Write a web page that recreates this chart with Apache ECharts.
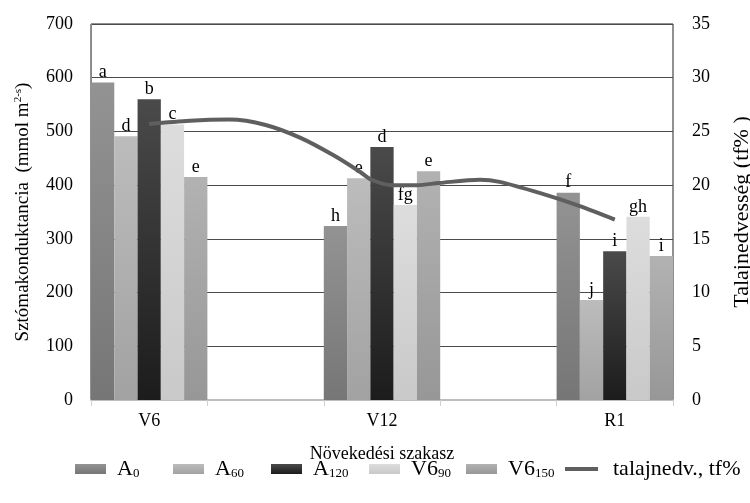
<!DOCTYPE html>
<html><head><meta charset="utf-8">
<script src="https://cdn.jsdelivr.net/npm/echarts@6/dist/echarts.min.js"></script>
<style>html,body{margin:0;padding:0;background:#fff}#c{width:750px;height:503px}</style>
</head><body><div id="c"></div>
<script>
var categories = ['V6', '', 'V12', '', 'R1'];
var seriesNames = ['A0', 'A60', 'A120', 'V690', 'V6150', 'talajnedv., tf%'];
var legendMain = ['A', 'A', 'A', 'V6', 'V6'];
var legendSub = ['0', '60', '120', '90', '150'];
var A0 = [591, null, 324, null, 386];
var A60 = [491, null, 413, null, 186];
var A120 = [560, null, 471, null, 277];
var V6_90 = [513, null, 363, null, 341];
var V6_150 = [415, null, 426, null, 268];
// soil moisture curve: position in category units (0 = V6, 2 = V12, 4 = R1) and value (tf%)
var soilPos = [0, 0.35, 0.69, 1.0, 1.3, 1.58, 1.81, 1.91, 2.09, 2.3, 2.49, 2.84, 3.01, 3.36, 3.7, 4.0];
var soilVal = [25.7, 26.0, 26.1, 25.6, 24.4, 22.8, 21.25, 20.5, 20.0, 20.0, 20.2, 20.5, 20.3, 19.25, 18.05, 16.8];
var lettersA0 = ['a', '', 'h', '', 'f'];
var lettersA60 = ['d', '', 'e', '', 'j'];
var lettersA120 = ['b', '', 'd', '', 'i'];
var lettersV6_90 = ['c', '', 'fg', '', 'gh'];
var lettersV6_150 = ['e', '', 'e', '', 'i'];
var leftTicks = [0, 700, 100];
var rightTicks = [0, 35, 5];

var barData = [A0, A60, A120, V6_90, V6_150];
var letters = [lettersA0, lettersA60, lettersA120, lettersV6_90, lettersV6_150];
var grads = [['#939393', '#767676'], ['#bcbcbc', '#a2a2a2'], ['#4a4a4a', '#1c1c1c'], ['#dddddd', '#c9c9c9'], ['#b2b2b2', '#979797']];
var FONT = '"Liberation Serif", "Times New Roman", serif';

function grad(c) {
  return new echarts.graphic.LinearGradient(0, 0, 0, 1, [{offset: 0, color: c[0]}, {offset: 1, color: c[1]}]);
}

var series = barData.map(function (d, i) {
  return {
    name: seriesNames[i], type: 'bar', data: d, barGap: '0%', barCategoryGap: '0%',
    itemStyle: {color: grad(grads[i])},
    label: {show: true, position: 'top', distance: 1, color: '#000', fontFamily: FONT, fontSize: 18,
      formatter: function (p) { return letters[i][p.dataIndex]; }}
  };
});
series.push({
  name: seriesNames[5], type: 'line', xAxisIndex: 1, yAxisIndex: 1,
  data: soilPos.map(function (p, k) { return [p, soilVal[k]]; }),
  smooth: 0.3, symbol: 'none', z: 5, lineStyle: {color: '#5f5f5f', width: 4}, itemStyle: {color: '#5f5f5f'}
});

var legendLefts = [70, 168, 266, 364, 461, 560];
var legends = seriesNames.map(function (n, i) {
  var isLine = i === 5;
  return {
    data: [{name: n, icon: 'rect'}], left: legendLefts[i], top: 453,
    itemWidth: isLine ? 33 : 31, itemHeight: isLine ? 4 : 10,
    itemStyle: {borderWidth: 0},
    textStyle: {fontFamily: FONT, fontSize: 22, color: '#000',
      rich: {m: {fontFamily: FONT, fontSize: 22, color: '#000', padding: [0, 0, 0, isLine ? 10 : 6]},
             s: {fontFamily: FONT, fontSize: 13, color: '#000', padding: [10, 0, 0, 0]}}},
    formatter: function (name) {
      if (i < 5) return '{m|' + legendMain[i] + '}{s|' + legendSub[i] + '}';
      return '{m|' + name + '}';
    },
    selectedMode: false
  };
});

var chart = echarts.init(document.getElementById('c'));
chart.setOption({
  animation: false,
  backgroundColor: '#fff',
  grid: {left: 91, right: 77, top: 24, bottom: 103, show: true, borderColor: '#222', borderWidth: 1,
    containLabel: false, outerBoundsMode: 'none'},
  legend: legends,
  xAxis: [{
    type: 'category', data: categories, boundaryGap: true,
    name: 'Növekedési szakasz', nameLocation: 'middle', nameGap: 45,
    nameTextStyle: {fontFamily: FONT, fontSize: 18, color: '#000'},
    axisLine: {onZero: false, lineStyle: {color: '#bdbdbd', width: 2}},
    axisTick: {show: true, interval: 0, length: 6, lineStyle: {color: '#d0d0d0'}},
    axisLabel: {interval: 0, margin: 12, fontFamily: FONT, fontSize: 18, color: '#000'}
  }, {
    type: 'value', min: -0.5, max: 4.5, show: false
  }],
  yAxis: [{
    type: 'value', min: leftTicks[0], max: leftTicks[1], interval: leftTicks[2],
    name: '{a|Sztómakonduktancia  (mmol m}{s|2-s}{a|)}', nameLocation: 'middle', nameGap: 58, nameRotate: 90,
    nameTextStyle: {rich: {a: {fontFamily: FONT, fontSize: 19, color: '#000'}, s: {fontFamily: FONT, fontSize: 11, color: '#000', padding: [0, 0, 9, 0]}}},
    axisLine: {show: true, onZero: false, lineStyle: {color: '#888', width: 1}},
    axisTick: {show: false},
    axisLabel: {margin: 18, fontFamily: FONT, fontSize: 18, color: '#000'},
    splitLine: {show: true, lineStyle: {color: '#4a4a4a', width: 1}}
  }, {
    type: 'value', min: rightTicks[0], max: rightTicks[1], interval: rightTicks[2],
    name: 'Talajnedvesség (tf% )', nameLocation: 'middle', nameGap: 58, nameRotate: 90,
    nameTextStyle: {fontFamily: FONT, fontSize: 22, color: '#000'},
    axisLine: {show: false, onZero: false}, axisTick: {show: false},
    axisLabel: {margin: 19, fontFamily: FONT, fontSize: 18, color: '#000'},
    splitLine: {show: false}
  }],
  series: series
});
</script></body></html>
